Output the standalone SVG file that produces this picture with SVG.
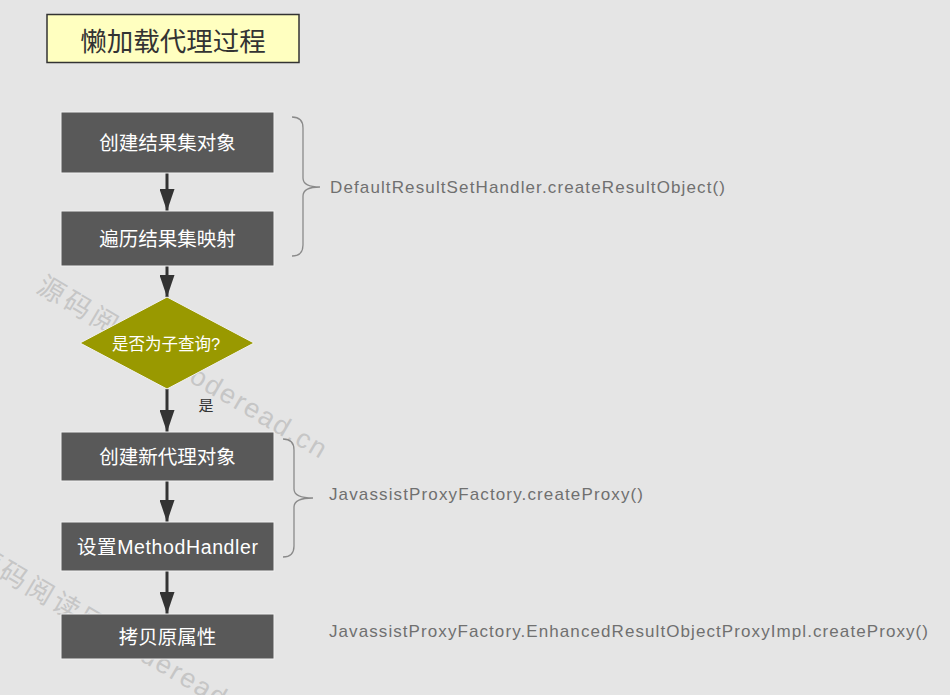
<svg xmlns="http://www.w3.org/2000/svg" width="950" height="695" viewBox="0 0 950 695">
  <style>
    .wm { font-family: "Liberation Sans", "Noto Sans CJK SC", sans-serif; fill: #c6c6c6; }
    .wmc { font-size: 27px; letter-spacing: 3.5px; }
    .wml { font-size: 27px; letter-spacing: 2px; }
    .node rect { fill: #595959; stroke: #f2f2f2; stroke-width: 1; }
    .ntext { font-family: "Liberation Sans", "Noto Sans CJK SC", sans-serif; font-size: 19.5px; fill: #ffffff; text-anchor: middle; }
    .note { font-family: "Liberation Sans", "Noto Sans CJK SC", sans-serif; font-size: 17px; fill: #707070; }
    .brace { fill: none; stroke: #8a8a8a; stroke-width: 1.3; }
    .conn line { stroke: #333333; stroke-width: 3; marker-end: url(#arrow); }
  </style>
  <defs>
    <marker id="arrow" markerUnits="userSpaceOnUse" markerWidth="22" markerHeight="15" refX="22" refY="7.5" orient="auto">
      <path d="M0,0 L22,7.5 L0,15 z" fill="#333333"/>
    </marker>
  </defs>
  <rect x="0" y="0" width="950" height="695" fill="#e5e5e5"/>

  <g id="watermark">
    <text class="wm" transform="translate(35,291) rotate(30.5)"><tspan class="wmc">源码阅读网</tspan><tspan class="wml"> coderead.cn</tspan></text>
    <text class="wm" transform="translate(-29,561) rotate(30.5)"><tspan class="wmc">源码阅读网</tspan><tspan class="wml"> coderead.cn</tspan></text>
  </g>

  <g id="title">
    <rect x="47" y="14.5" width="252" height="48" fill="#ffffc0" stroke="#333333" stroke-width="1.5"/>
    <text x="173" y="50.5" font-family="Liberation Sans, Noto Sans CJK SC, sans-serif" font-size="26.5" fill="#333333" text-anchor="middle">懒加载代理过程</text>
  </g>

  <g id="connectors" class="conn">
    <line x1="167" y1="173" x2="167" y2="211"/>
    <line x1="167" y1="266" x2="167" y2="297"/>
    <line x1="167" y1="389" x2="167" y2="432"/>
    <line x1="167" y1="481" x2="167" y2="522"/>
    <line x1="167" y1="571" x2="167" y2="614"/>
    <text x="206" y="411" font-family="Liberation Sans, Noto Sans CJK SC, sans-serif" font-size="15" fill="#333333" text-anchor="middle">是</text>
  </g>

  <g id="n1" class="node">
    <rect x="61" y="112" width="213" height="61"/>
    <text class="ntext" x="167.5" y="149.5">创建结果集对象</text>
  </g>
  <g id="n2" class="node">
    <rect x="61" y="211" width="213" height="55"/>
    <text class="ntext" x="167.5" y="245.5">遍历结果集映射</text>
  </g>
  <g id="decision">
    <polygon points="167,297 254,343 167,389 80,343" fill="#999900" stroke="#f2f2f2" stroke-width="1"/>
    <text x="166" y="350" font-family="Liberation Sans, Noto Sans CJK SC, sans-serif" font-size="16.5" fill="#ffffff" text-anchor="middle">是否为子查询?</text>
  </g>
  <g id="n3" class="node">
    <rect x="61" y="432" width="213" height="49"/>
    <text class="ntext" x="167.5" y="463.5">创建新代理对象</text>
  </g>
  <g id="n4" class="node">
    <rect x="61" y="522" width="213" height="49"/>
    <text class="ntext" x="167.5" y="553.5" textLength="181" lengthAdjust="spacing">设置MethodHandler</text>
  </g>
  <g id="n5" class="node">
    <rect x="61" y="614" width="213" height="45"/>
    <text class="ntext" x="167.5" y="643.5">拷贝原属性</text>
  </g>

  <g id="note1">
    <path class="brace" d="M292,117 Q303,117 303,128 L303,178 Q303,187 320,187 Q303,187 303,196 L303,245 Q303,256 292,256"/>
    <text class="note" x="330" y="193" textLength="395" lengthAdjust="spacing">DefaultResultSetHandler.createResultObject()</text>
  </g>
  <g id="note2">
    <path class="brace" d="M283,439 Q294,439 294,450 L294,489 Q294,498 313,498 Q294,498 294,507 L294,546 Q294,557 283,557"/>
    <text class="note" x="329" y="500" textLength="314" lengthAdjust="spacing">JavassistProxyFactory.createProxy()</text>
  </g>
  <g id="note3">
    <text class="note" x="329" y="637" textLength="599" lengthAdjust="spacing">JavassistProxyFactory.EnhancedResultObjectProxyImpl.createProxy()</text>
  </g>
</svg>
